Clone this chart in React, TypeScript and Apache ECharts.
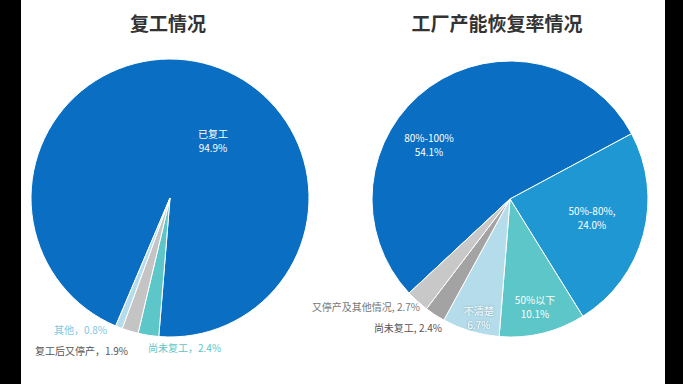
import React, { useEffect, useRef } from "react";
import * as echarts from "echarts";

const leftTitle = "复工情况";
const rightTitle = "工厂产能恢复率情况";

const leftNames = ["已复工", "尚未复工", "复工后又停产", "其他"];
const leftValues = [94.9, 2.4, 1.9, 0.8];
const leftColors = ["#0a6fc2", "#5cc6c8", "#c4c4c4", "#b4dcea"];

const rightNames = ["80%-100%", "50%-80%", "50%以下", "不清楚", "尚未复工", "又停产及其他情况"];
const rightValues = [54.1, 24.0, 10.1, 6.7, 2.4, 2.7];
const rightColors = ["#0a6fc2", "#1f97d3", "#5cc6c8", "#b4dcea", "#a3a3a3", "#c8c8c8"];

const FONT = '"Noto Sans CJK SC", "Noto Sans", sans-serif';

export default function App() {
  const ref = useRef<HTMLDivElement>(null);

  useEffect(() => {
    if (!ref.current) return;
    const chart = echarts.init(ref.current, undefined, { renderer: "svg" });

    const leftLabelPos: Record<string, any> = {
      "已复工": { x: 213, y: 140, align: "center", color: "#ffffff", fmt: (n: string, v: number) => `${n}\n${v.toFixed(1)}%` },
      "尚未复工": { x: 148, y: 347, align: "left", color: "#5cc6c8", fmt: (n: string, v: number) => `${n}，${v.toFixed(1)}%` },
      "复工后又停产": { x: 128, y: 350, align: "right", color: "#555555", fmt: (n: string, v: number) => `${n}，${v.toFixed(1)}%` },
      "其他": { x: 107, y: 329, align: "right", color: "#7ec6df", fmt: (n: string, v: number) => `${n}，${v.toFixed(1)}%` },
    };
    const rightLabelPos: Record<string, any> = {
      "80%-100%": { x: 429, y: 144, align: "center", color: "#ffffff", fmt: (n: string, v: number) => `${n}\n${v.toFixed(1)}%` },
      "50%-80%": { x: 592, y: 217, align: "center", color: "#ffffff", fmt: (n: string, v: number) => `${n},\n${v.toFixed(1)}%` },
      "50%以下": { x: 535, y: 306, align: "center", color: "#ffffff", fmt: (n: string, v: number) => `${n}\n${v.toFixed(1)}%` },
      "不清楚": { x: 479, y: 317, align: "center", color: "#f4fafc", fmt: (n: string, v: number) => `${n}\n${v.toFixed(1)}%` },
      "尚未复工": { x: 442, y: 327, align: "right", color: "#555555", fmt: (n: string, v: number) => `${n}, ${v.toFixed(1)}%` },
      "又停产及其他情况": { x: 420, y: 306, align: "right", color: "#777777", fmt: (n: string, v: number) => `${n}, ${v.toFixed(1)}%` },
    };

    const mkData = (names: string[], values: number[], colors: string[], pos: Record<string, any>) =>
      names.map((n, i) => ({
        name: n,
        value: values[i],
        itemStyle: { color: colors[i] },
        label: {
          color: pos[n].color,
          formatter: pos[n].fmt(n, values[i]),
          textShadowColor: pos[n].color === "#f4fafc" ? "rgba(90,120,130,0.6)" : "transparent",
          textShadowBlur: pos[n].color === "#f4fafc" ? 2 : 0,
        },
      }));

    const mkLayout = (names: string[], pos: Record<string, any>) => (params: any) => {
      const n = names[params.dataIndex];
      const p = pos[n];
      return { x: p.x, y: p.y, align: p.align, verticalAlign: "middle" };
    };

    chart.setOption({
      animation: false,
      backgroundColor: "#000000",
      graphic: [
        { type: "rect", z: -10, shape: { x: 21, y: 0, width: 644, height: 384 }, style: { fill: "#ffffff" } },
        {
          type: "text", x: 168, y: 22,
          style: { text: leftTitle, font: `bold 19px ${FONT}`, fill: "#333333", textAlign: "center", textVerticalAlign: "middle" },
        },
        {
          type: "text", x: 497, y: 22,
          style: { text: rightTitle, font: `bold 19px ${FONT}`, fill: "#333333", textAlign: "center", textVerticalAlign: "middle" },
        },
      ],
      series: [
        {
          type: "pie",
          center: [170, 198],
          radius: [0, 139],
          startAngle: 247,
          clockwise: true,
          avoidLabelOverlap: false,
          itemStyle: { borderColor: "#ffffff", borderWidth: 1 },
          label: { show: true, position: "inside", fontFamily: FONT, fontSize: 10, lineHeight: 14 },
          labelLine: { show: false },
          labelLayout: mkLayout(leftNames, leftLabelPos),
          emphasis: { disabled: true },
          data: mkData(leftNames, leftValues, leftColors, leftLabelPos),
        },
        {
          type: "pie",
          center: [510, 199],
          radius: [0, 138],
          startAngle: 223,
          clockwise: true,
          avoidLabelOverlap: false,
          itemStyle: { borderColor: "#ffffff", borderWidth: 1 },
          label: { show: true, position: "inside", fontFamily: FONT, fontSize: 10, lineHeight: 14 },
          labelLine: { show: false },
          labelLayout: mkLayout(rightNames, rightLabelPos),
          emphasis: { disabled: true },
          data: mkData(rightNames, rightValues, rightColors, rightLabelPos),
        },
      ],
    });

    return () => chart.dispose();
  }, []);

  return (
    <div style={{ position: "fixed", left: 0, top: 0, width: 683, height: 384 }}>
      <div ref={ref} style={{ width: 683, height: 384 }} />
    </div>
  );
}
